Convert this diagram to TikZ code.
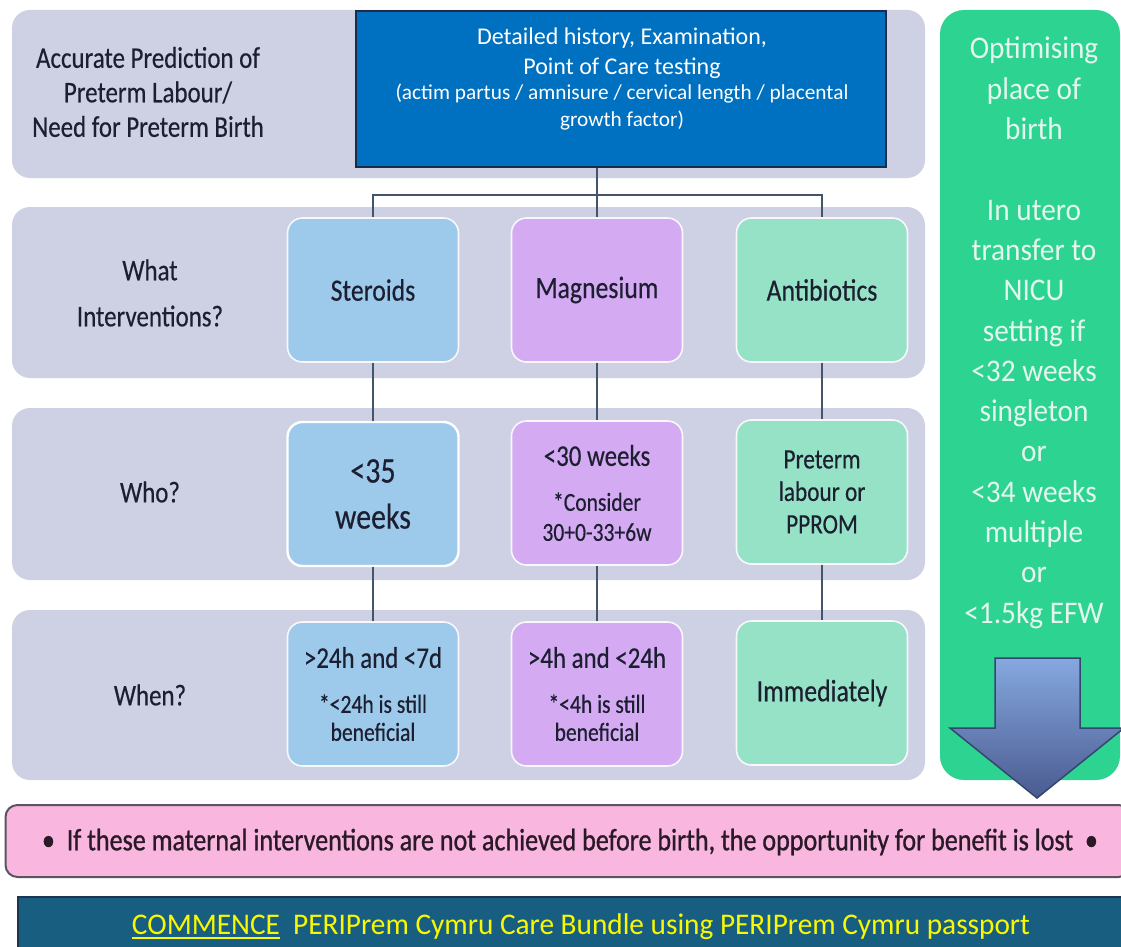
\documentclass[tikz,border=0pt]{standalone}
\usepackage{fontspec}
\setmainfont{Carlito}
\newfontfamily\condfont[FakeStretch=0.83,FakeBold=0.4]{Carlito}
\newfontfamily\greenfont[FakeStretch=0.93]{Carlito}
\newfontfamily\heavyfont[FakeBold=1.0]{Carlito}
\newcommand\thickul[1]{\setbox0\hbox{#1}\rlap{\rule[-4.5pt]{\wd0}{2.4pt}}\box0}
\definecolor{bandcol}{HTML}{CDD1E3}
\definecolor{bluebox}{HTML}{0070C0}
\definecolor{blueedge}{HTML}{1C2B48}
\definecolor{stercol}{HTML}{9DC9EB}
\definecolor{magcol}{HTML}{D4AAF3}
\definecolor{anticol}{HTML}{95E2C6}
\definecolor{greencol}{HTML}{2DD391}
\definecolor{greentext}{HTML}{E4F6EE}
\definecolor{linecol}{HTML}{44546A}
\definecolor{txtcol}{HTML}{1C1F30}
\definecolor{pinktxtcol}{HTML}{2A1A28}
\definecolor{pinkcol}{HTML}{F9B6DF}
\definecolor{pinkedge}{HTML}{5A5560}
\definecolor{tealcol}{HTML}{185E80}
\definecolor{commyellow}{HTML}{F8F800}
\definecolor{arrowtop}{HTML}{86A8E0}
\definecolor{arrowbot}{HTML}{4A5B90}
\definecolor{arrowedge}{HTML}{34456F}
\begin{document}
\begin{tikzpicture}[x=1pt,y=-1pt,
  band/.style={fill=bandcol, draw=none, rounded corners=18pt},
  cbox/.style={rounded corners=15pt, draw=white!85!bandcol, line width=1.6pt,
    minimum width=171pt, minimum height=144pt, align=center, inner sep=0pt,
    text=txtcol, font=\condfont\fontsize{31}{33}\selectfont},
  sbox/.style={cbox, fill=stercol},
  mbox/.style={cbox, fill=magcol},
  abox/.style={cbox, fill=anticol},
  rowlabel/.style={align=center, text=txtcol, inner sep=0pt,
    font=\condfont\fontsize{30}{46}\selectfont},
  bluetext/.style={anchor=base, text=white, inner sep=0pt},
  conn/.style={draw=linecol, line width=1.8pt}
]
\useasboundingbox (0,0) rectangle (1121,947);
\fill[white] (0,0) rectangle (1121,947);

% bands
\path[band] (12,10) rectangle (925,178);
\path[band] (12,207) rectangle (925,378);
\path[band] (12,408) rectangle (925,580);
\path[band] (12,610) rectangle (925,780);

% top row
\node[rowlabel, font=\condfont\fontsize{30}{34.5}\selectfont] (toplab) at (148,92)
  {Accurate Prediction of\\Preterm Labour/\\Need for Preterm Birth};
\node[draw=blueedge, line width=1.8pt, fill=bluebox, minimum width=530pt,
  minimum height=156pt, inner sep=0pt] (detail) at (621,89) {};
\node[bluetext, font=\fontsize{24}{28}\selectfont] (dl1) at (622,45) {Detailed history, Examination,};
\node[bluetext, font=\fontsize{24}{28}\selectfont] (dl2) at (622,75) {Point of Care testing};
\node[bluetext, font=\fontsize{21.3}{25}\selectfont] (dl3) at (622,100) {(actim partus / amnisure / cervical length / placental};
\node[bluetext, font=\fontsize{21.3}{25}\selectfont] (dl4) at (622,127) {growth factor)};

% row labels
\node[rowlabel] (whatlab) at (150,293) {What\\Interventions?};
\node[rowlabel] (wholab) at (150,492) {Who?};
\node[rowlabel] (whenlab) at (150,695) {When?};

% interventions
\node[sbox] (ster) at (373,290) {Steroids};
\node[mbox] (mag) at (597,290) {Magnesium};
\node[abox] (anti) at (822,290) {Antibiotics};

% who
\node[sbox, line width=2.4pt, draw=white, font=\condfont\fontsize{36}{46}\selectfont] (sterwho) at (373,494) {<35\\weeks};
\node[mbox, font=\condfont\fontsize{30}{33}\selectfont] (magwho) at (597,493) {<30 weeks\\[12pt]{\fontsize{26}{30}\selectfont *Consider}\\[-3pt]{\fontsize{26}{30}\selectfont 30+0-33+6w}};
\node[abox, font=\condfont\fontsize{28}{32.5}\selectfont] (antiwho) at (822,492) {Preterm\\labour or\\PPROM};

% when
\node[sbox, font=\condfont\fontsize{30}{33}\selectfont] (sterwhen) at (373,694) {>24h and <7d\\[12pt]{\fontsize{26}{28}\selectfont *<24h is still}\\[-5pt]{\fontsize{26}{28}\selectfont beneficial}};
\node[mbox, font=\condfont\fontsize{30}{33}\selectfont] (magwhen) at (597,694) {>4h and <24h\\[12pt]{\fontsize{26}{28}\selectfont *<4h is still}\\[-5pt]{\fontsize{26}{28}\selectfont beneficial}};
\node[abox] (antiwhen) at (822,693) {Immediately};

% connectors
\coordinate (split) at (597,195);
\draw[conn] (detail.south -| mag.north) -- (mag.north);
\draw[conn] (ster.north) |- (split) -| (anti.north);
\draw[conn] (ster.south) -- (sterwho.north);
\draw[conn] (mag.south) -- (magwho.north);
\draw[conn] (anti.south) -- (antiwho.north);
\draw[conn] (sterwho.south) -- (sterwhen.north);
\draw[conn] (magwho.south) -- (magwhen.north);
\draw[conn] (antiwho.south) -- (antiwhen.north);

% green column
\node[fill=greencol, rounded corners=24pt, minimum width=180pt, minimum height=770pt,
  inner sep=0pt] (greenbox) at (1030,395) {};
\node[align=center, text=greentext, inner sep=0pt, anchor=north,
  font=\greenfont\fontsize{31.5}{40.3}\selectfont] (greentxt) at (1034,37)
  {Optimising\\place of\\birth\\[40.3pt]In utero\\transfer to\\NICU\\setting if\\<32 weeks\\singleton\\or\\<34 weeks\\multiple\\or\\<1.5kg EFW};

% down arrow
\path[draw=arrowedge, line width=1.5pt, top color=arrowtop, bottom color=arrowbot]
  (995,658) -- (1080,658) -- (1080,728) -- (1124,728) -- (1037,798) -- (950,728) -- (995,728) -- cycle;

% pink bar
\node[fill=pinkcol, draw=pinkedge, line width=2pt, rounded corners=12pt,
  minimum width=1125pt, minimum height=72pt, inner sep=0pt] (pinkbar) at (568,841) {};
\node[text=pinktxtcol, inner sep=0pt] (pinktxt) at (570,842)
  {\resizebox{1056pt}{\height}{\heavyfont\fontsize{31}{33}\selectfont \textbullet\ \ If these maternal interventions are not achieved before birth, the opportunity for benefit is lost\ \ \textbullet}};

% bottom bar
\node[fill=tealcol, draw=blueedge!80!tealcol, line width=1.5pt, minimum width=1110pt,
  minimum height=60pt, inner sep=0pt, anchor=north west] (commbar) at (17,896) {};
\node[text=commyellow, inner sep=0pt] (commtxt) at (581,927)
  {\resizebox{898pt}{\height}{\fontsize{30}{33}\selectfont \thickul{COMMENCE}\ \ PERIPrem Cymru Care Bundle using PERIPrem Cymru passport}};
\end{tikzpicture}
\end{document}
